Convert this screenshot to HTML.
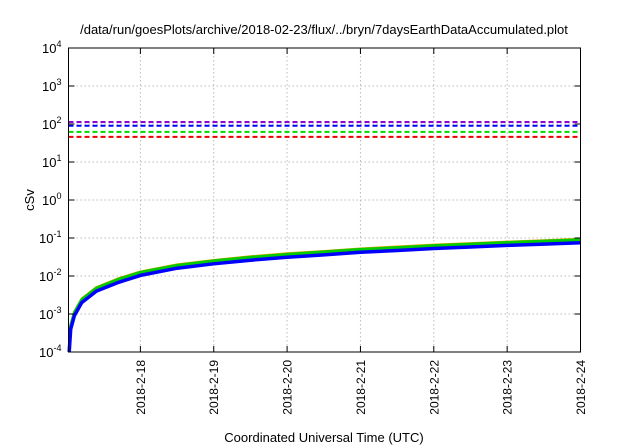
<!DOCTYPE html>
<html><head><meta charset="utf-8"><style>
body{margin:0;background:#fff;}
svg{display:block;font-family:"Liberation Sans",Arial,sans-serif;}
</style></head><body>
<svg id="chart" width="640" height="448" viewBox="0 0 640 448">
<rect width="640" height="448" fill="#fff"/>
<text x="324" y="34" font-size="13" text-anchor="middle" fill="#000">/data/run/goesPlots/archive/2018-02-23/flux/../bryn/7daysEarthDataAccumulated.plot</text>
<text transform="translate(34,200) rotate(-90)" font-size="13" text-anchor="middle">cSv</text>
<text x="324" y="442" font-size="13" text-anchor="middle">Coordinated Universal Time (UTC)</text>
<g id="grid"></g><g id="series"></g><g id="axes"></g>
</svg>
<script>
const xTicks = [18,19,20,21,22,23,24];
const xTickLabels = ["2018-2-18","2018-2-19","2018-2-20","2018-2-21","2018-2-22","2018-2-23","2018-2-24"];
const yExps = [-4,-3,-2,-1,0,1,2,3,4];
const days = [17.03,17.05,17.1,17.2,17.4,17.7,18,18.5,19,19.5,20,20.5,21,21.5,22,22.5,23,23.5,24];
const blueVals = [0.0001,0.0004,0.0009,0.002,0.004,0.0068,0.0104,0.016,0.021,0.026,0.031,0.036,0.042,0.047,0.053,0.058,0.064,0.069,0.075];
const greenVals = [0.00012,0.0005,0.0011,0.0024,0.0048,0.0082,0.0125,0.019,0.025,0.031,0.037,0.043,0.05,0.056,0.063,0.069,0.076,0.083,0.09];
const orangeVals = [0.00013,0.00052,0.00115,0.0025,0.005,0.0086,0.013,0.02,0.026,0.0325,0.039,0.045,0.052,0.059,0.066,0.072,0.079,0.086,0.094];
const thresholdVals = [113,90,62,46];
const thresholdColors = ["#9400d3","#0000ff","#00dd00","#ee0000"];
const thresholdNames = ["threshold-purple","threshold-blue","threshold-green","threshold-red"];

const L=68.5,R=580.5,T=48,B=352, X0=17.02, X1=24;
const xs=d=>L+(d-X0)/(X1-X0)*(R-L);
const ys=v=>B-(Math.log10(v)+4)/8*(B-T);
const NS="http://www.w3.org/2000/svg";
function mk(tag,attrs,parent){const e=document.createElementNS(NS,tag);for(const k in attrs)e.setAttribute(k,attrs[k]);parent.appendChild(e);return e;}
const grid=document.getElementById('grid'),ser=document.getElementById('series'),ax=document.getElementById('axes');
xTicks.forEach((d,i)=>{const x=xs(d);
 const g=mk('line',{x1:x,x2:x,y1:T,y2:B,stroke:'#bbb','stroke-dasharray':'1.5,2.5','stroke-width':1},grid);
 
 const t=mk('line',{x1:x,x2:x,y1:B,y2:B-6,stroke:'#000'},ax);
 
 const t2=mk('line',{x1:x,x2:x,y1:T,y2:T+6,stroke:'#000'},ax);
 
 const lb=mk('text',{transform:`translate(${x+4.5},360) rotate(-90)`,'font-size':12,'text-anchor':'end'},ax);
 lb.textContent=xTickLabels[i];
 
});
yExps.forEach(e=>{const y=ys(Math.pow(10,e));
 if(e>-4&&e<4){const g=mk('line',{x1:L,x2:R,y1:y,y2:y,stroke:'#bbb','stroke-dasharray':'1.5,2.5','stroke-width':1},grid);
 }
 const t=mk('line',{x1:L,x2:L+6,y1:y,y2:y,stroke:'#000'},ax);
 
 const t2=mk('line',{x1:R,x2:R-6,y1:y,y2:y,stroke:'#000'},ax);
 
 const lb=mk('text',{x:L-7,y:y+5,'font-size':13,'text-anchor':'end'},ax);
 lb.innerHTML='10<tspan dy="-6" font-size="9">'+e+'</tspan>';
 
});
thresholdVals.forEach((v,i)=>{const y=ys(v);
 const l=mk('line',{x1:L,x2:R,y1:y,y2:y,stroke:thresholdColors[i],'stroke-width':2,'stroke-dasharray':'5,3'},ser);
 
});
function line(vals,color,w,name){const d=vals.map((v,i)=>(i?'L':'M')+xs(days[i]).toFixed(1)+','+ys(v).toFixed(1)).join('');
 const p=mk('path',{d:d,fill:'none',stroke:color,'stroke-width':w,'stroke-linejoin':'round'},ser);
 }
line(orangeVals,'#e8a000',2.5,'accumulated-orange');
line(greenVals,'#00cc00',3,'accumulated-green');
line(blueVals,'#0000ff',3.5,'accumulated-blue');
const f=mk('rect',{x:L,y:T,width:R-L,height:B-T,fill:'none',stroke:'#000','stroke-width':1},ax);

</script>
</body></html>
